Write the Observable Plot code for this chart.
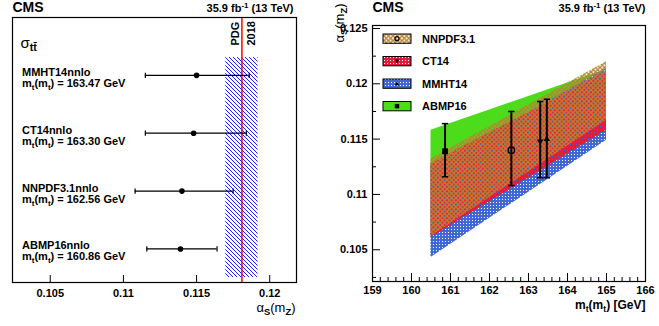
<!DOCTYPE html>
<html><head><meta charset="utf-8">
<script src="https://cdn.jsdelivr.net/npm/d3@7"></script>
<script src="https://cdn.jsdelivr.net/npm/@observablehq/plot@0.6"></script>
<style>
body{margin:0;background:#fff;}
#wrap{position:relative;width:659px;height:326px;overflow:hidden;background:#fff;}
#left{position:absolute;left:0;top:0;}
#right{position:absolute;left:330px;top:0;}
</style></head><body>
<div id="wrap"><div id="left"></div><div id="right"></div></div>
<script>
// ---------- data ----------
const pdfNames = ["MMHT14nnlo", "CT14nnlo", "NNPDF3.1nnlo", "ABMP16nnlo"];
const pdfShort = ["MMHT14", "CT14", "NNPDF3.1", "ABMP16"];
const mtValues = [163.47, 163.30, 162.56, 160.86];
const asCentral = [0.1150, 0.1148, 0.1140, 0.1139];
const asLow = [0.1115, 0.1115, 0.1108, 0.1116];
const asHigh = [0.1186, 0.1184, 0.1175, 0.1164];
const pdgCentral = [0.1181];
const pdgLow = [0.1170];
const pdgHigh = [0.1192];
const bandMt = [160.5, 165.0];
const abmpBandLow = [0.1100, 0.1160];
const abmpBandHigh = [0.1158, 0.1213];
const mmhtBandLow = [0.1043, 0.1149];
const mmhtBandHigh = [0.1124, 0.1214];
const ct14BandLow = [0.1061, 0.1158];
const ct14BandHigh = [0.1128, 0.1211];
const nnpdfBandLow = [0.1062, 0.1167];
const nnpdfBandHigh = [0.1132, 0.1220];
const leftXTicks = [0.105, 0.11, 0.115, 0.12];
const rightXTicks = [159, 160, 161, 162, 163, 164, 165, 166];
const rightYTicks = [0.105, 0.11, 0.115, 0.12, 0.125];
const rightYMinor = [0.1025, 0.1075, 0.1125, 0.1175, 0.1225];
const lumiText = "35.9 fb^{-1} (13 TeV)";

// ---------- helpers ----------
const FONT = "font-family:'Liberation Sans',Arial,Helvetica,sans-serif;font-size:11px;font-weight:bold;background:white;color:black;overflow:visible;";
const NS = "http://www.w3.org/2000/svg";
function richify(svg) {
  d3.select(svg).selectAll("text").each(function () {
    const targets = this.querySelector("tspan") ? Array.from(this.querySelectorAll("tspan")) : [this];
    for (const t of targets) {
      const s = t.textContent;
      if (!/[_^]\{/.test(s)) continue;
      t.textContent = "";
      let cur = 0;
      const add = (txt, shift, small) => {
        const ts = document.createElementNS(NS, "tspan");
        const dy = shift - cur;
        if (dy) ts.setAttribute("dy", dy);
        cur = shift;
        if (small) { ts.style.fontSize = "0.72em"; ts.style.fontWeight = "bold"; }
        ts.textContent = txt;
        t.appendChild(ts);
      };
      const re = /([_^])\{([^}]*)\}/g;
      let last = 0, m;
      while ((m = re.exec(s))) {
        if (m.index > last) add(s.slice(last, m.index), 0, false);
        add(m[2], m[1] === "_" ? 3 : -4.5, true);
        last = re.lastIndex;
      }
      if (last < s.length) add(s.slice(last), 0, false);
    }
  });
}
function addDefs(svg) {
  const defs = d3.select(svg).insert("defs", ":first-child");
  defs.append("pattern").attr("id", "hatchBlue").attr("patternUnits", "userSpaceOnUse")
    .attr("width", 4).attr("height", 4)
    .append("path").attr("d", "M-1,-1L5,5M-1,3L1,5M3,-1L5,1")
    .attr("stroke", "#1c1cff").attr("stroke-width", 1).attr("fill", "none");
  const pb = defs.append("pattern").attr("id", "dotBlue").attr("patternUnits", "userSpaceOnUse")
    .attr("width", 3).attr("height", 3);
  pb.append("rect").attr("width", 3).attr("height", 3).attr("fill", "#3f68d4");
  pb.append("rect").attr("x", 1).attr("y", 1).attr("width", 1).attr("height", 1).attr("fill", "#ffffff");
  defs.append("pattern").attr("id", "dotRed").attr("patternUnits", "userSpaceOnUse")
    .attr("width", 3).attr("height", 3)
    .append("path").attr("d", "M0,0H3V3H0Z M0,0H1V1H0Z").attr("fill-rule", "evenodd").attr("fill", "#e01c3c");
  defs.append("pattern").attr("id", "crossGold").attr("patternUnits", "userSpaceOnUse")
    .attr("width", 4.5).attr("height", 4.5)
    .append("path").attr("d", "M-1,-1L5.5,5.5M5.5,-1L-1,5.5")
    .attr("stroke", "#b98232").attr("stroke-width", 1.4).attr("fill", "none");
}
const vcap = {draw(ctx) { ctx.moveTo(0, -2.6); ctx.lineTo(0, 2.6); }};
const hcap = {draw(ctx) { ctx.moveTo(-3.2, 0); ctx.lineTo(3.2, 0); }};
const fmt = d => `${d}`;

// ---------- left panel ----------
const rows = pdfNames.map((n, i) => ({name: n, mt: mtValues[i], c: asCentral[i], lo: asLow[i], hi: asHigh[i], row: i}));
const pdg = pdgCentral.map((c, i) => ({c, lo: pdgLow[i], hi: pdgHigh[i]}));
const LH = 326, LFH = 326 - 17 - 44;
const left = Plot.plot({
  width: 330, height: LH, marginLeft: 12, marginRight: 34, marginTop: 17, marginBottom: 44,
  style: FONT,
  x: {domain: [0.10242, 0.12183]},
  y: {domain: [3.58, -1], axis: null},
  marks: [
    Plot.rect(pdg, {x1: "lo", x2: "hi", fill: "url(#hatchBlue)", insetTop: 40, insetBottom: 5}),
    Plot.ruleX(pdg, {x: "c", stroke: "#ff0000", strokeWidth: 1.5}),
    Plot.text(pdg, {x: "c", text: () => "PDG\n2018", frameAnchor: "top", dy: 28, rotate: -90,
      textAnchor: "start", lineAnchor: "middle", lineHeight: 1.5, fontSize: 11}),
    Plot.ruleY(rows, {y: "row", x1: "lo", x2: "hi", stroke: "black", strokeWidth: 1.2}),
    Plot.dot(rows, {x: "lo", y: "row", symbol: vcap, stroke: "black", strokeWidth: 1.2, fill: "none"}),
    Plot.dot(rows, {x: "hi", y: "row", symbol: vcap, stroke: "black", strokeWidth: 1.2, fill: "none"}),
    Plot.dot(rows, {x: "c", y: "row", r: 2.8, fill: "black", stroke: "none"}),
    Plot.text(rows, {y: "row", text: "name", frameAnchor: "left", dx: 9.5, dy: 0.5, textAnchor: "start", lineAnchor: "bottom", fontSize: 11}),
    Plot.text(rows, {y: "row", text: d => `m_{t}(m_{t}) = ${d.mt.toFixed(2)} GeV`, frameAnchor: "left", dx: 9.5, dy: 11.5,
      textAnchor: "start", lineAnchor: "bottom", fontSize: 11}),
    Plot.text(["σ_{tt̄}"], {text: d => d, frameAnchor: "top-left", dx: 8, dy: 30, textAnchor: "start", lineAnchor: "bottom", fontSize: 15, fontWeight: "normal"}),
    Plot.ruleX(leftXTicks, {x: d => d, insetTop: LFH - 7, stroke: "black", strokeWidth: 1}),
    Plot.axisX(leftXTicks, {tickSize: 0, tickPadding: 7, label: null, fontSize: 11, tickFormat: fmt}),
    Plot.text(["α_{S}(m_{Z})"], {text: d => d, frameAnchor: "bottom-right", dx: -1, dy: 29, textAnchor: "end", lineAnchor: "bottom", fontSize: 13, fontWeight: "normal"}),
    Plot.text(["CMS"], {text: d => d, frameAnchor: "top-left", dy: -6, textAnchor: "start", lineAnchor: "bottom", fontSize: 14}),
    Plot.text([lumiText], {text: d => d, frameAnchor: "top-right", dx: -3, dy: -5.5, textAnchor: "end", lineAnchor: "bottom", fontSize: 11}),
    Plot.frame({stroke: "black", strokeWidth: 1.2})
  ]
});
addDefs(left);
richify(left);
document.getElementById("left").appendChild(left);

// ---------- right panel ----------
const band = (lo, hi) => bandMt.map((m, i) => ({mt: m, lo: lo[i], hi: hi[i]}));
const pts = pdfShort.map((n, i) => ({name: n, mt: mtValues[i], c: asCentral[i], lo: asLow[i], hi: asHigh[i]}));
const only = n => pts.filter(d => d.name === n);
const RFH = 326 - 25 - 45, RFW = 329 - 42 - 14;
const minorX = d3.range(159, 166.001, 0.2).filter(v => Math.abs(v - Math.round(v)) > 1e-6);
const right = Plot.plot({
  width: 329, height: 326, marginLeft: 42, marginRight: 14, marginTop: 25, marginBottom: 45,
  style: FONT,
  x: {domain: [159, 166]},
  y: {domain: [0.10213, 0.12527]},
  marks: [
    Plot.areaY(band(abmpBandLow, abmpBandHigh), {x: "mt", y1: "lo", y2: "hi", fill: "#4cdc1c"}),
    Plot.areaY(band(mmhtBandLow, mmhtBandHigh), {x: "mt", y1: "lo", y2: "hi", fill: "url(#dotBlue)"}),
    Plot.areaY(band(ct14BandLow, ct14BandHigh), {x: "mt", y1: "lo", y2: "hi", fill: "url(#dotRed)"}),
    Plot.areaY(band(nnpdfBandLow, nnpdfBandHigh), {x: "mt", y1: "lo", y2: "hi", fill: "url(#crossGold)"}),
    Plot.ruleX(pts, {x: "mt", y1: "lo", y2: "hi", stroke: "black", strokeWidth: 2}),
    Plot.dot(pts, {x: "mt", y: "lo", symbol: hcap, stroke: "black", strokeWidth: 1.5, fill: "none"}),
    Plot.dot(pts, {x: "mt", y: "hi", symbol: hcap, stroke: "black", strokeWidth: 1.5, fill: "none"}),
    Plot.dot(only("ABMP16"), {x: "mt", y: "c", symbol: "square", r: 3.3, fill: "black", stroke: "none"}),
    Plot.dot(only("NNPDF3.1"), {x: "mt", y: "c", symbol: "circle", r: 3.2, fill: "none", stroke: "black", strokeWidth: 1.4}),
    Plot.dot(only("CT14"), {x: "mt", y: "c", symbol: "triangle", r: 2.4, rotate: 180, fill: "black", stroke: "none"}),
    Plot.dot(only("MMHT14"), {x: "mt", y: "c", symbol: "triangle", r: 2.4, fill: "black", stroke: "none"}),
    Plot.ruleX(rightXTicks, {x: d => d, insetTop: RFH - 8, stroke: "black"}),
    Plot.ruleX(minorX, {x: d => d, insetTop: RFH - 4, stroke: "black"}),
    Plot.ruleY(rightYTicks, {y: d => d, insetRight: RFW - 8, stroke: "black"}),
    Plot.ruleY(rightYMinor, {y: d => d, insetRight: RFW - 4, stroke: "black"}),
    Plot.axisX(rightXTicks, {tickSize: 0, tickPadding: 5, label: null, fontSize: 11, tickFormat: fmt}),
    Plot.axisY(rightYTicks, {tickSize: 0, tickPadding: 5, label: null, fontSize: 11, tickFormat: fmt}),
    Plot.text(["m_{t}(m_{t}) [GeV]"], {text: d => d, frameAnchor: "bottom-right", dx: 0, dy: 27, textAnchor: "end", lineAnchor: "bottom", fontSize: 12}),
    Plot.text(["α_{S}(m_{Z})"], {text: d => d, frameAnchor: "top-left", dx: -33, dy: -22, rotate: -90, textAnchor: "end", lineAnchor: "middle", fontSize: 13, fontWeight: "normal"}),
    Plot.text(["CMS"], {text: d => d, frameAnchor: "top-left", dy: -14, textAnchor: "start", lineAnchor: "bottom", fontSize: 14}),
    Plot.text([lumiText], {text: d => d, frameAnchor: "top-right", dx: 0, dy: -13.5, textAnchor: "end", lineAnchor: "bottom", fontSize: 11}),
    Plot.frame({stroke: "black", strokeWidth: 1.2})
  ]
});
addDefs(right);
richify(right);
// legend (decoration)
const legendItems = [
  {name: "NNPDF3.1", fill: "url(#crossGold)", marker: "circle"},
  {name: "CT14", fill: "url(#dotRed)", marker: "down"},
  {name: "MMHT14", fill: "url(#dotBlue)", marker: "up"},
  {name: "ABMP16", fill: "#4cdc1c", marker: "square"}
].filter(d => pdfShort.includes(d.name));
const lg = d3.select(right).append("g").attr("text-anchor", "start");
legendItems.forEach((d, i) => {
  const y0 = 34 + i * 22.5, cx = 67, cy = y0 + 4.65;
  lg.append("rect").attr("x", 53).attr("y", y0).attr("width", 28).attr("height", 9.3)
    .attr("fill", d.fill).attr("stroke", "black").attr("stroke-width", 1);
  if (d.marker === "circle") lg.append("circle").attr("cx", cx).attr("cy", cy).attr("r", 2).attr("fill", "none").attr("stroke", "black").attr("stroke-width", 1.2);
  if (d.marker === "square") lg.append("rect").attr("x", cx - 2.2).attr("y", cy - 2.2).attr("width", 4.4).attr("height", 4.4).attr("fill", "black");
  if (d.marker === "down") lg.append("path").attr("d", `M${cx - 2.2},${cy - 1.6}L${cx + 2.2},${cy - 1.6}L${cx},${cy + 2}Z`).attr("fill", "black");
  if (d.marker === "up") lg.append("path").attr("d", `M${cx - 2.2},${cy + 1.6}L${cx + 2.2},${cy + 1.6}L${cx},${cy - 2}Z`).attr("fill", "black");
  lg.append("text").attr("x", 92).attr("y", cy + 4).attr("text-anchor", "start")
    .attr("font-size", 11).attr("font-weight", "bold").text(d.name);
});
document.getElementById("right").appendChild(right);
</script>
</body></html>
